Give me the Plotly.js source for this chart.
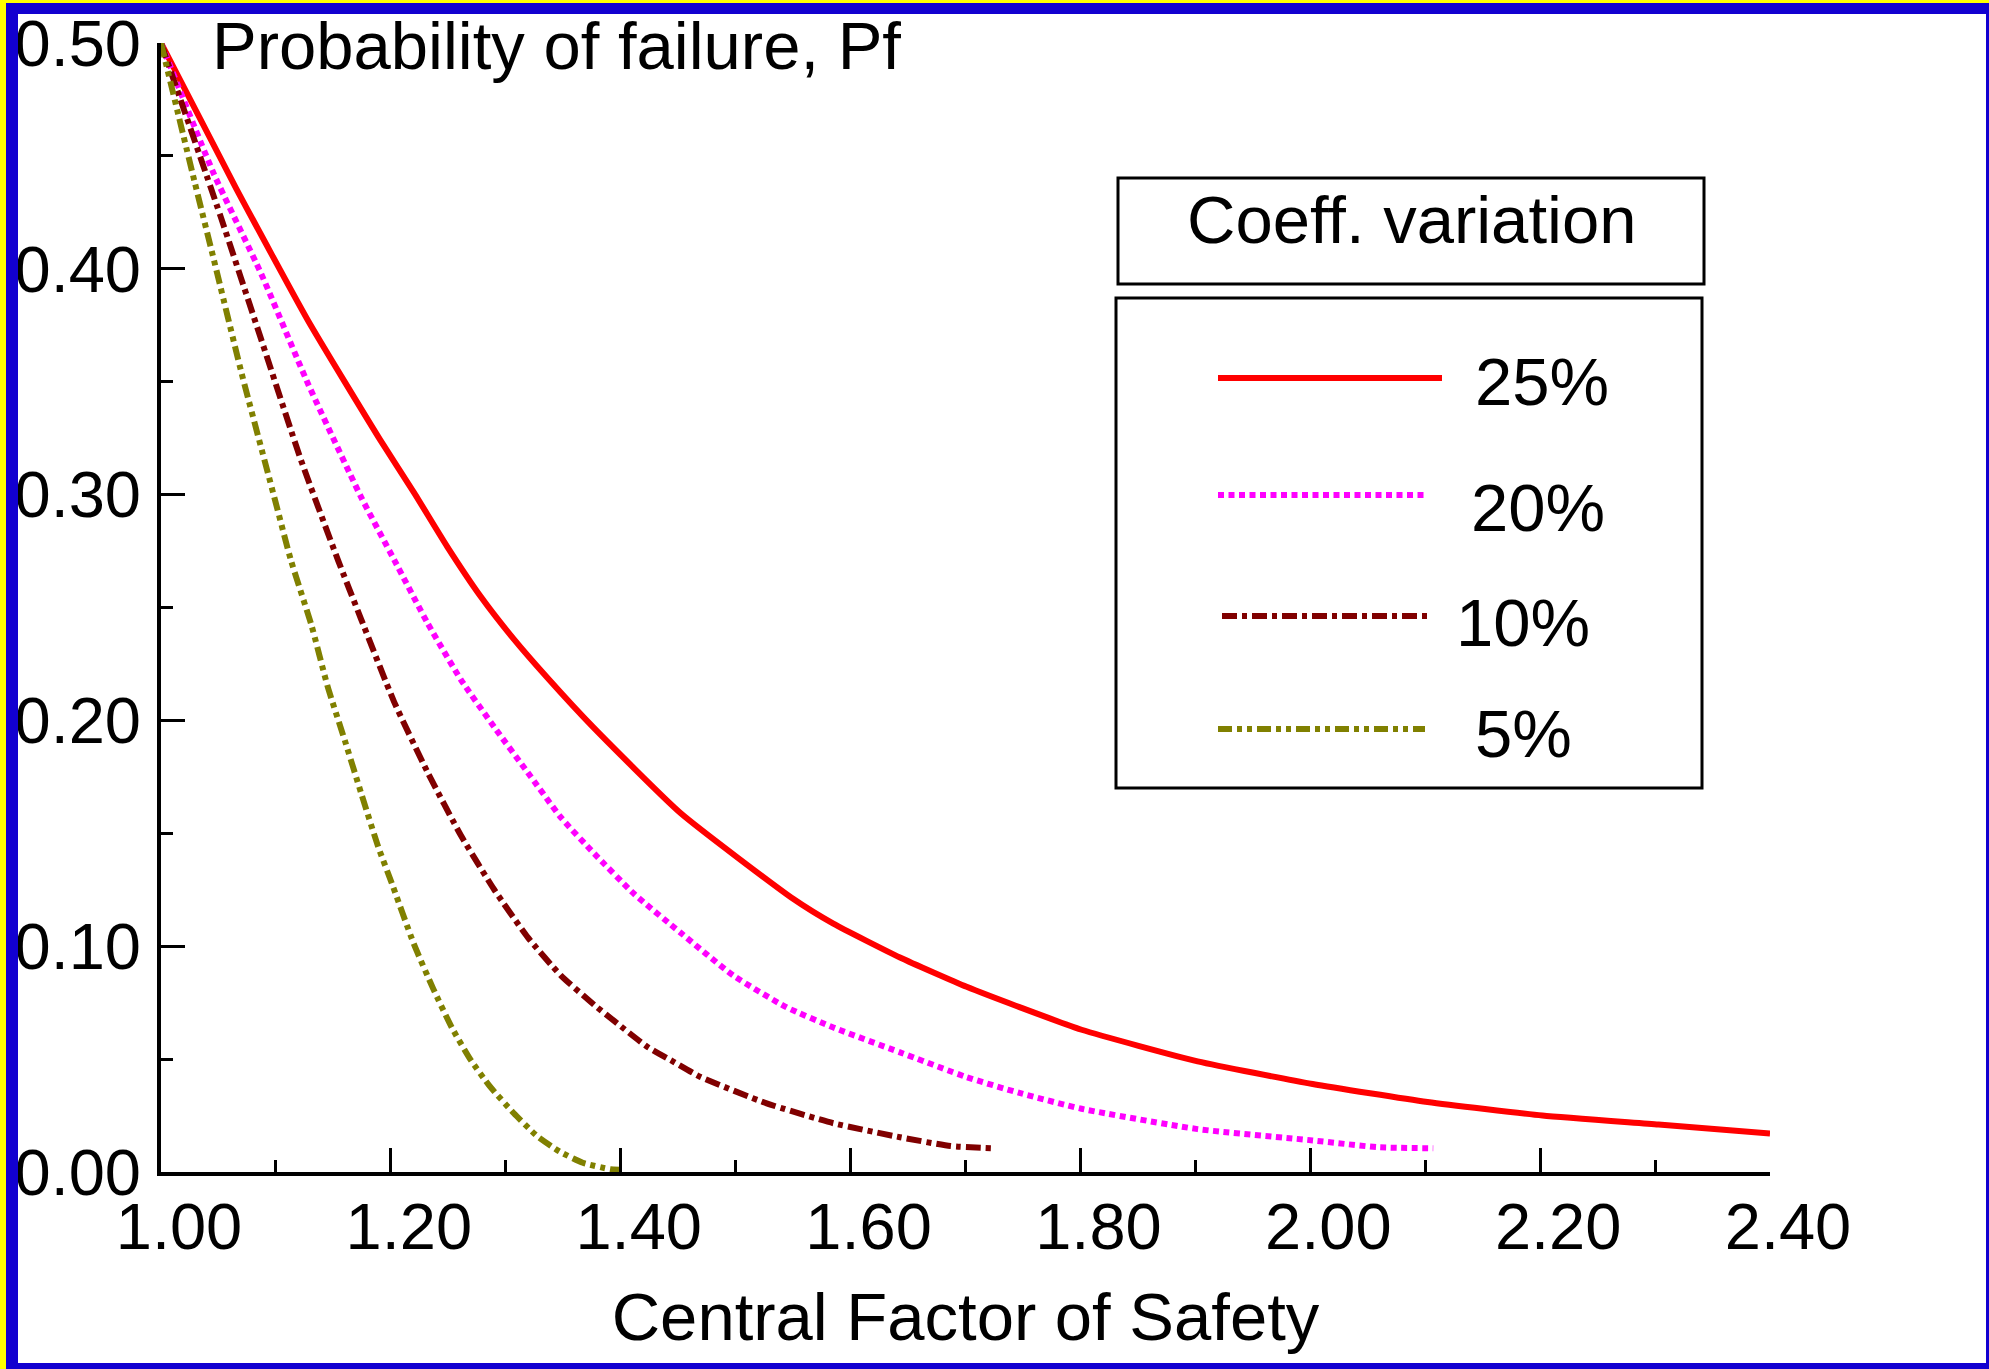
<!DOCTYPE html>
<html>
<head>
<meta charset="utf-8">
<script src="https://cdn.plot.ly/plotly-3.0.1.min.js"></script>
<style>
  html, body { margin: 0; padding: 0; background: #ffffff; }
  #plot { position: absolute; left: 0; top: 0; width: 1989px; height: 1369px; }
  #frame { position: absolute; left: 0; top: 0; width: 1989px; height: 1369px; box-sizing: border-box;
           border-left: 6px solid #ffff00; border-top: 3px solid #ffff00; pointer-events: none; }
  #frame div { width: 100%; height: 100%; box-sizing: border-box;
           border-left: 12px solid #1200d0; border-top: 11px solid #1200d0;
           border-right: 3px solid #1200d0; border-bottom: 6px solid #1200d0; }
</style>
</head>
<body>
<div id="plot"></div>
<div id="frame"><div></div></div>
<script>
// ---- data ----
const seriesNames = ["25%", "20%", "10%", "5%"];
const legendTitle = "Coeff. variation";
const xTitle = "Central Factor of Safety";
const yTitle = "Probability of failure, Pf";

const fs25 = [1.000, 1.065, 1.128, 1.191, 1.220, 1.249, 1.278, 1.307, 1.336, 1.376, 1.452, 1.550, 1.585, 1.643, 1.701, 1.747, 1.801, 1.902, 2.002, 2.102, 2.202, 2.303, 2.400];
const pf25 = [0.500, 0.436, 0.377, 0.324, 0.301, 0.277, 0.255, 0.236, 0.219, 0.197, 0.159, 0.121, 0.110, 0.095, 0.082, 0.073, 0.063, 0.049, 0.039, 0.031, 0.025, 0.021, 0.017];

const fs20 = [1.000, 1.046, 1.087, 1.128, 1.174, 1.203, 1.232, 1.261, 1.290, 1.319, 1.348, 1.377, 1.412, 1.452, 1.498, 1.544, 1.585, 1.643, 1.701, 1.747, 1.801, 1.902, 2.002, 2.058, 2.107];
const pf20 = [0.500, 0.442, 0.398, 0.349, 0.299, 0.271, 0.243, 0.218, 0.197, 0.177, 0.157, 0.141, 0.123, 0.106, 0.087, 0.073, 0.064, 0.053, 0.042, 0.035, 0.028, 0.019, 0.014, 0.011, 0.0105];

const fs10 = [1.000, 1.052, 1.087, 1.122, 1.154, 1.174, 1.203, 1.232, 1.261, 1.290, 1.319, 1.348, 1.377, 1.394, 1.423, 1.446, 1.469, 1.527, 1.585, 1.643, 1.687, 1.724];
const pf10 = [0.500, 0.423, 0.369, 0.315, 0.271, 0.245, 0.208, 0.177, 0.149, 0.125, 0.104, 0.087, 0.074, 0.067, 0.0555, 0.0488, 0.0422, 0.0304, 0.0216, 0.0154, 0.0115, 0.0105];

const fs05 = [1.000, 1.029, 1.046, 1.070, 1.099, 1.113, 1.131, 1.145, 1.160, 1.174, 1.189, 1.200, 1.220, 1.237, 1.253, 1.269, 1.286, 1.307, 1.327, 1.347, 1.367, 1.391, 1.399];
const pf05 = [0.500, 0.439, 0.404, 0.354, 0.298, 0.271, 0.242, 0.215, 0.191, 0.168, 0.144, 0.129, 0.101, 0.081, 0.064, 0.050, 0.038, 0.026, 0.016, 0.009, 0.0041, 0.0012, 0.0010];

const xTickVals = [1.0, 1.2, 1.4, 1.6, 1.8, 2.0, 2.2, 2.4];
const yTickVals = [0.0, 0.1, 0.2, 0.3, 0.4, 0.5];

// ---- styling ----
const FONT = "Liberation Sans, Arial, Helvetica, sans-serif";
const styles = [
  { color: "#ff0000", dash: "solid" },
  { color: "#ff00ff", dash: "6px,4.5px" },
  { color: "#800000", dash: "15px,5px,5px,5px" },
  { color: "#808000", dash: "14px,5px,5px,5px,5px,5px" }
];
const xs = [fs25, fs20, fs10, fs05];
const ys = [pf25, pf20, pf10, pf05];

const W = 1989, H = 1369;
const M = { l: 161, r: W - 1770, t: 43, b: H - 1172 };
const PW = W - M.l - M.r, PH = H - M.t - M.b;
const px = X => (X - M.l) / PW;
const py = Y => (H - M.b - Y) / PH;

const traces = seriesNames.map((n, i) => ({
  type: "scatter", mode: "lines", name: n,
  x: xs[i], y: ys[i],
  line: { color: styles[i].color, dash: styles[i].dash, width: 6, shape: "spline", smoothing: 0.5 },
  showlegend: false, hoverinfo: "x+y+name"
}));

// legend (drawn as shapes + annotations to match the two-box layout)
const legLines = [
  { x0: 1218, x1: 1442, y: 378 },
  { x0: 1218, x1: 1425, y: 495 },
  { x0: 1222, x1: 1427, y: 616 },
  { x0: 1218, x1: 1425, y: 729 }
];
const legLabels = [
  { x: 1473, y: 381 },
  { x: 1469, y: 507 },
  { x: 1454, y: 622 },
  { x: 1473, y: 733 }
];

const shapes = [
  { type: "rect", xref: "paper", yref: "paper", x0: px(1118), x1: px(1704), y0: py(284), y1: py(178),
    line: { color: "#000", width: 3 }, fillcolor: "rgba(0,0,0,0)" },
  { type: "rect", xref: "paper", yref: "paper", x0: px(1116), x1: px(1702), y0: py(788), y1: py(298),
    line: { color: "#000", width: 3 }, fillcolor: "rgba(0,0,0,0)" }
];
legLines.forEach((l, i) => shapes.push({
  type: "line", xref: "paper", yref: "paper", x0: px(l.x0), x1: px(l.x1), y0: py(l.y), y1: py(l.y),
  line: { color: styles[i].color, width: 6, dash: styles[i].dash }
}));

const TF = { family: FONT, size: 67, color: "#000" };
const annotations = [
  { text: yTitle, xref: "paper", yref: "paper", x: px(210), y: py(46), xanchor: "left", yanchor: "middle",
    showarrow: false, font: TF },
  { text: legendTitle, xref: "paper", yref: "paper", x: px(1411), y: py(219), xanchor: "center", yanchor: "middle",
    showarrow: false, font: TF }
];
legLabels.forEach((l, i) => annotations.push({
  text: seriesNames[i], xref: "paper", yref: "paper", x: px(l.x), y: py(l.y), xanchor: "left", yanchor: "middle",
  showarrow: false, font: TF
}));

const axisCommon = {
  showgrid: false, zeroline: false, showline: true, linecolor: "#000", linewidth: 4,
  ticks: "inside", ticklen: 24, tickwidth: 3, tickcolor: "#000",
  tickfont: { family: FONT, size: 65, color: "#000" }, tickformat: ".2f", mirror: false
};

const layout = {
  width: W, height: H,
  margin: M,
  paper_bgcolor: "rgba(0,0,0,0)", plot_bgcolor: "rgba(0,0,0,0)",
  font: { family: FONT, color: "#000" },
  showlegend: false,
  xaxis: Object.assign({}, axisCommon, {
    range: [1.0, 2.4], tickvals: xTickVals, ticklabelshift: 18, ticklabelstandoff: -5,
    minor: { dtick: 0.1, tick0: 1.0, ticks: "inside", ticklen: 12, tickwidth: 3, tickcolor: "#000" },
    title: { text: xTitle, font: TF, standoff: 32 }
  }),
  yaxis: Object.assign({}, axisCommon, {
    range: [0, 0.5], tickvals: yTickVals, ticklabelstandoff: 3,
    minor: { dtick: 0.05, tick0: 0, ticks: "inside", ticklen: 12, tickwidth: 3, tickcolor: "#000" }
  }),
  shapes: shapes,
  annotations: annotations
};

Plotly.newPlot("plot", traces, layout, { displayModeBar: false, staticPlot: true });
</script>
</body>
</html>
